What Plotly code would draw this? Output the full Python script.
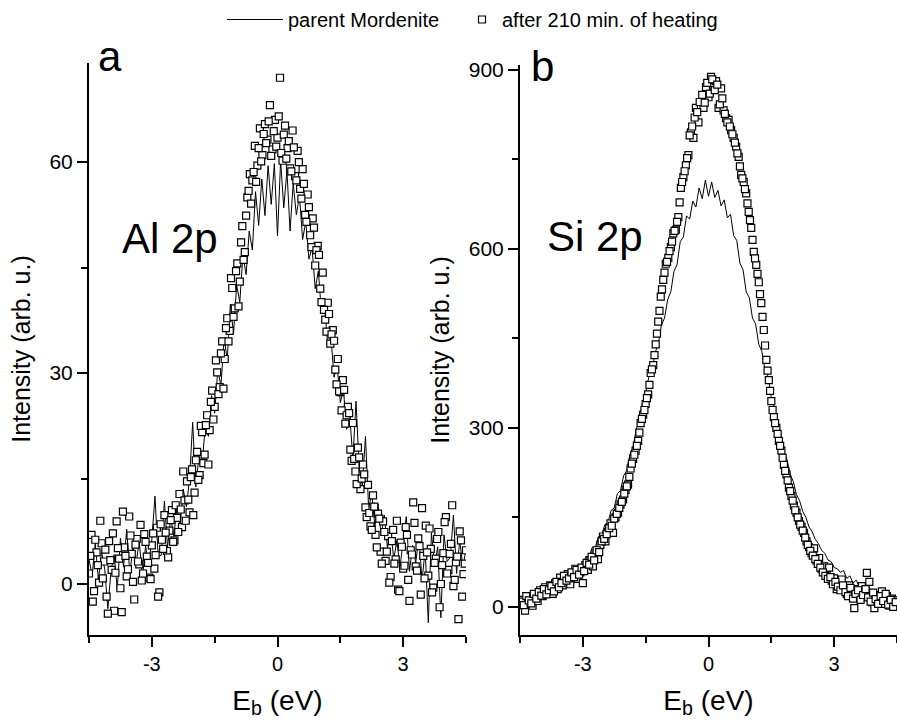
import numpy as np
import plotly.graph_objects as go

# ---------------- data ----------------
# Panel a : Al 2p
al_line = [3.5, 1.2, 5.8, 0.5, 4.6, 2.1, -3.5, 1.8, 4.2, -0.8,
           6.5, 2.4, 7.8, 1.5, 5.2, 3.0, 6.1, 0.8, 5.4, 2.7,
           6.3, 12.5, 3.9, 4.1, 11.8, 5.2, 9.4, 6.8, 10.9, 8.2,
           13.5, 11.0, 14.9, 23.0, 13.8, 18.2, 17.0, 22.4, 21.0, 26.8,
           24.3, 30.5, 28.2, 35.0, 31.9, 39.8, 35.6, 42.5, 40.1, 46.8,
           44.0, 50.2, 47.5, 55.8, 51.0, 57.6, 52.4, 59.5, 54.0, 59.8,
           49.5,
           60.2, 53.5, 58.8, 50.2, 57.0, 52.5, 55.2, 49.0, 51.6, 46.2,
           47.8, 42.0, 44.5, 38.6, 39.5, 33.8, 35.2, 29.4, 31.0, 25.8,
           27.6, 22.0, 23.9, 17.8, 26.0, 16.5, 14.0, 21.0, 10.8, 12.9,
           8.2, 11.4, 6.9, 9.8, 5.1, 8.0, 3.5, 6.2, 2.4, 6.1,
           9.6, 1.8, 5.5, 3.0, 6.8, 0.4, 4.9, -5.5, 7.3, 2.6,
           5.3, -4.8, 7.0, 3.2, 3.8, 9.8, 1.5, 6.2, 2.4, 5.0]

# squares on the even channels (-4.50 ... 4.50)
al_squares = [1.5, 7.0, -1.0, 4.5, 0.2, 5.8, 3.2, -1.8, 6.1, 2.0,
              -3.8, 8.9, 3.6, -4.0, 5.2, 1.1, 9.6, 4.3, -2.2, 6.4,
              2.8, 0.5, 7.1, 3.9, 0.9, 5.5, 2.2, 8.0, -1.2, 6.3,
              9.8, 4.7, 7.6, 10.5, 6.2, 9.4, 12.8, 8.1, 11.9, 14.6,
              10.2, 16.3, 13.0, 18.8, 15.5, 21.6, 18.4, 24.0, 21.9, 27.5,
              25.2, 30.1, 28.0, 34.5, 32.0, 37.8, 36.0, 42.1, 39.2, 45.6,
              43.0, 50.9, 47.2, 55.0, 58.3, 57.4, 62.3, 59.5, 64.8, 61.0,
              65.4, 63.2, 68.1, 61.8, 66.0, 63.5, 72.0, 60.2, 65.2, 62.0,
              59.1, 64.5, 58.0, 61.6, 56.2, 59.0, 52.5, 55.4, 49.6, 52.0,
              45.3, 48.1, 42.0, 44.3, 37.6, 40.0, 34.2, 36.1, 30.5, 32.0,
              27.3, 29.0, 22.8, 25.2, 19.1, 22.9, 16.0, 19.4, 13.5, 17.0,
              10.9, 14.1, 8.2, 12.6, 7.0, 10.0, 4.6, 8.9, 3.3, 6.8,
              1.0, 7.7, 3.5, -0.8, 5.9, 2.2, 8.1, 0.6, 4.8, 11.6,
              2.5, 6.5, -1.5, 4.0, 8.3, 1.2, 5.0, -0.5, 3.6, 7.4,
              0.0, 4.4, 9.5, 2.0, 5.7, -0.3, 3.1, -5.0, 6.2, 1.4,
              4.8]

# squares on the odd channels (-4.47 ... 4.47)
al_squares_odd = [4.0, -2.5, 6.3, 2.7, 9.0, 0.8, 4.9, -4.2, 3.4, 7.2,
                  1.6, 5.1, -0.6, 10.3, 4.0, 2.1, 6.9, 0.3, 5.6, 3.2,
                  8.4, 1.5, 6.0, 3.0, 0.7, 7.2, 4.1, -1.8, 8.5, 5.0,
                  7.3, 3.8, 9.1, 6.0, 11.2, 7.4, 10.6, 16.0, 9.0, 12.0,
                  15.2, 9.8, 17.6, 14.8, 22.5, 17.2, 22.6, 17.0, 25.9, 23.4,
                  31.8, 27.0, 32.8, 27.8, 36.4, 34.5, 43.5, 38.0, 44.5, 39.5,
                  48.6, 46.1, 52.4, 55.9, 54.1, 58.6, 57.2, 62.0, 60.1, 64.0,
                  62.7, 65.8, 60.9, 64.4, 62.2,
                  66.5, 61.3, 63.9, 60.5, 63.0, 58.7, 62.1, 57.4, 60.0, 54.8,
                  56.9, 51.5, 53.6, 47.9, 50.7, 47.5, 46.8, 40.1, 39.0, 35.9,
                  38.4, 35.5, 34.6, 28.4, 27.4, 24.7, 27.6, 24.0, 24.3, 17.5,
                  17.8, 14.2, 18.0, 15.0, 15.6, 9.5, 10.1, 7.7, 11.0, 5.2,
                  9.3, 2.9, 7.4, 4.6, 0.2, 6.1, 2.9, 9.0, -1.0, 5.3,
                  2.6, 7.0, -2.4, 4.2, 8.7, 1.9, 5.4, 10.8, 0.8, 4.5,
                  7.9, -1.2, 3.0, 6.4, -3.3, 2.7, 8.8, 1.5, 4.3, 11.2,
                  0.6, 3.9, 7.5, -1.8, 2.9]

# Panel b : Si 2p
si_line = [11, 18, 12, 21, 17, 25, 20, 29, 24, 33,
           29, 38, 34, 44, 40, 51, 48, 60, 58, 71,
           70, 85, 84, 100, 101, 118, 120, 138, 141, 162,
           166, 190, 195, 220, 229, 256, 268, 298, 313, 343,
           357, 385, 396, 426, 440, 472, 484, 515, 528, 562,
           574, 612, 620, 655, 650, 680, 670, 702, 684, 715,
           688,
           712, 686, 698, 672, 682, 652, 658, 622, 614, 576,
           565, 528, 518, 484, 474, 440, 428, 396, 386, 350,
           334, 305, 290, 260, 247, 222, 210, 188, 178, 160,
           150, 134, 126, 113, 106, 95, 90, 79, 76, 66,
           64, 58, 61, 48, 52, 40, 45, 34, 39, 29,
           34, 24, 30, 20, 26, 16, 22, 12, 18, 9]

si_squares = [5, 12, -6, 8, 15, 2, 20, 10, 28, 18,
              33, 24, 36, 22, 40, 30, 49, 36, 45, 55,
              38, 52, 64, 47, 58, 40, 70, 62, 78, 68,
              90, 80, 104, 118, 110, 126, 140, 124, 150, 158,
              172, 180, 196, 205, 232, 248, 262, 278, 308, 322,
              340, 356, 392, 405, 440, 478, 520, 548, 575, 585,
              603, 626, 632, 653, 702, 720, 740, 757, 795, 786,
              836, 812, 838, 836, 871,
              854,
              888, 871, 881, 836, 869, 832, 819, 816, 799, 786,
              771, 754, 724, 712, 693, 662, 635, 595, 573, 544,
              509, 464, 414, 380, 345, 318, 300, 278, 262, 238,
              222, 200, 186, 170, 158, 144, 134, 124, 110, 100,
              90, 98, 78, 82, 64, 68, 54, 66, 44, 48,
              30, 38, 46, 30, 22, 36, 25, -2, 30, 16,
              35, 20, 57, 42, 8, -2, 20, 12, 26, 5,
              18, 2, 14, 6, 11]

si_squares_odd = [9, 3, 18, 11, 6, 22, 14, 25, 19, 30,
                  21, 28, 35, 26, 42, 33, 40, 52, 44, 48,
                  58, 50, 62, 54, 66, 60, 74, 71, 84, 78,
                  95, 92, 110, 114, 122, 132, 136, 148, 156, 166,
                  176, 190, 202, 218, 240, 255, 270, 292, 315, 330,
                  350, 372, 398, 422, 458, 496, 532, 560, 578, 596,
                  612, 630, 645, 678, 712, 730, 752, 790, 805, 820,
                  829, 846, 858, 845, 878,
                  860, 884, 866, 875, 842, 852, 826, 812, 805, 792,
                  778, 760, 738, 718, 700, 676, 648, 615, 584, 558,
                  524, 486, 438, 396, 362, 330, 308, 290, 270, 250,
                  228, 212, 194, 178, 162, 150, 138, 128, 116, 104,
                  94, 86, 80, 72, 66, 58, 52, 47, 50, 38,
                  42, 34, 28, 36, 25, 18, 32, 14, 22, 28,
                  12, 20, 30, 16, 9, 24, 13, 5, 18, 10,
                  22, 4, 12, 0, 8]

x_ticks = [-3, 0, 3]
al_ticks = [0, 30, 60]
si_ticks = [0, 300, 600, 900]

# energy grids (regular spectrometer steps)
def grid(n, half):
    return np.linspace(-half, half, n)

e_al_line = grid(len(al_line), 4.5)
e_al_sq = np.concatenate([grid(len(al_squares), 4.5), grid(len(al_squares_odd), 4.47)])
y_al_sq = list(al_squares) + list(al_squares_odd)
e_si_line = grid(len(si_line), 4.5)
e_si_sq = np.concatenate([grid(len(si_squares), 4.5), grid(len(si_squares_odd), 4.47)])
y_si_sq = list(si_squares) + list(si_squares_odd)

FONT = "Liberation Sans, Arial, Helvetica, sans-serif"
W, H = 897, 725

line_style = dict(color="black", width=1)
sq_marker = dict(symbol="square", size=7, color="white",
                 line=dict(color="black", width=1.2))

fig = go.Figure()
fig.add_trace(go.Scatter(x=e_al_line, y=al_line, mode="lines", line=line_style,
                         name="parent Mordenite", xaxis="x", yaxis="y",
                         legend="legend"))
fig.add_trace(go.Scatter(x=e_al_sq, y=y_al_sq, mode="markers", marker=sq_marker,
                         name="after 210 min. of heating", xaxis="x", yaxis="y",
                         legend="legend2"))
fig.add_trace(go.Scatter(x=e_si_line, y=si_line, mode="lines", line=line_style,
                         showlegend=False, xaxis="x2", yaxis="y2"))
fig.add_trace(go.Scatter(x=e_si_sq, y=y_si_sq, mode="markers", marker=sq_marker,
                         showlegend=False, xaxis="x2", yaxis="y2"))

def xax(domain, anchor):
    return dict(domain=domain, anchor=anchor, range=[-4.5, 4.5],
                tickvals=x_ticks, ticktext=[str(v) for v in x_ticks],
                showline=True, linecolor="black", linewidth=2,
                ticks="outside", ticklen=10, tickwidth=2, tickcolor="black",
                minor=dict(ticks="outside", ticklen=6, tickwidth=2,
                           tickcolor="black", dtick=1.5, tick0=0),
                showgrid=False, zeroline=False, mirror=False,
                tickfont=dict(size=20, color="black", family=FONT),
                title=dict(text="E<sub>b</sub> (eV)", standoff=16,
                           font=dict(size=28, color="black", family=FONT)),
                automargin=False, fixedrange=True)

def yax(domain, anchor, rng, ticks, minor):
    return dict(domain=domain, anchor=anchor, range=rng,
                tickvals=ticks, ticktext=[str(v) for v in ticks],
                showline=True, linecolor="black", linewidth=2,
                ticks="outside", ticklen=10, tickwidth=2, tickcolor="black",
                minor=dict(ticks="outside", ticklen=6, tickwidth=2,
                           tickcolor="black", dtick=minor, tick0=0),
                showgrid=False, zeroline=False, mirror=False,
                tickfont=dict(size=21, color="black", family=FONT),
                title=dict(text="Intensity (arb. u.)", standoff=12,
                           font=dict(size=25, color="black", family=FONT)),
                automargin=False, fixedrange=True)

legend_common = dict(orientation="h", y=1.0, xanchor="left", yanchor="top",
                     font=dict(size=20, color="black", family=FONT),
                     bgcolor="rgba(0,0,0,0)")

fig.update_layout(
    width=W, height=H, template="none",
    paper_bgcolor="white", plot_bgcolor="white",
    margin=dict(l=0, r=0, t=0, b=0),
    font=dict(family=FONT, color="black"),
    xaxis=xax([89 / W, 466 / W], "y"),
    yaxis=yax([1 - 635 / H, 1 - 63 / H], "x", [-7.25, 74.1], al_ticks, 15),
    xaxis2=xax([520 / W, 1.0], "y2"),
    yaxis2=yax([1 - 635 / H, 1 - 65 / H], "x2", [-47, 908], si_ticks, 150),
    showlegend=True,
    legend=dict(x=222 / W, itemwidth=56, **legend_common),
    legend2=dict(x=462 / W, itemwidth=30, **legend_common),
    annotations=[
        dict(text="a", x=96 / W, y=1 - 82 / H, xref="paper", yref="paper",
             xanchor="left", yanchor="bottom", showarrow=False,
             font=dict(size=42, color="black", family=FONT)),
        dict(text="b", x=529 / W, y=1 - 92 / H, xref="paper", yref="paper",
             xanchor="left", yanchor="bottom", showarrow=False,
             font=dict(size=42, color="black", family=FONT)),
        dict(text="Al 2p", x=120 / W, y=1 - 264 / H, xref="paper", yref="paper",
             xanchor="left", yanchor="bottom", showarrow=False,
             font=dict(size=42, color="black", family=FONT)),
        dict(text="Si 2p", x=545 / W, y=1 - 262 / H, xref="paper", yref="paper",
             xanchor="left", yanchor="bottom", showarrow=False,
             font=dict(size=42, color="black", family=FONT)),
    ],
)

fig.write_html("out.html", config={"displayModeBar": False},
               post_script="document.body.style.margin='0';document.body.style.padding='0';")
